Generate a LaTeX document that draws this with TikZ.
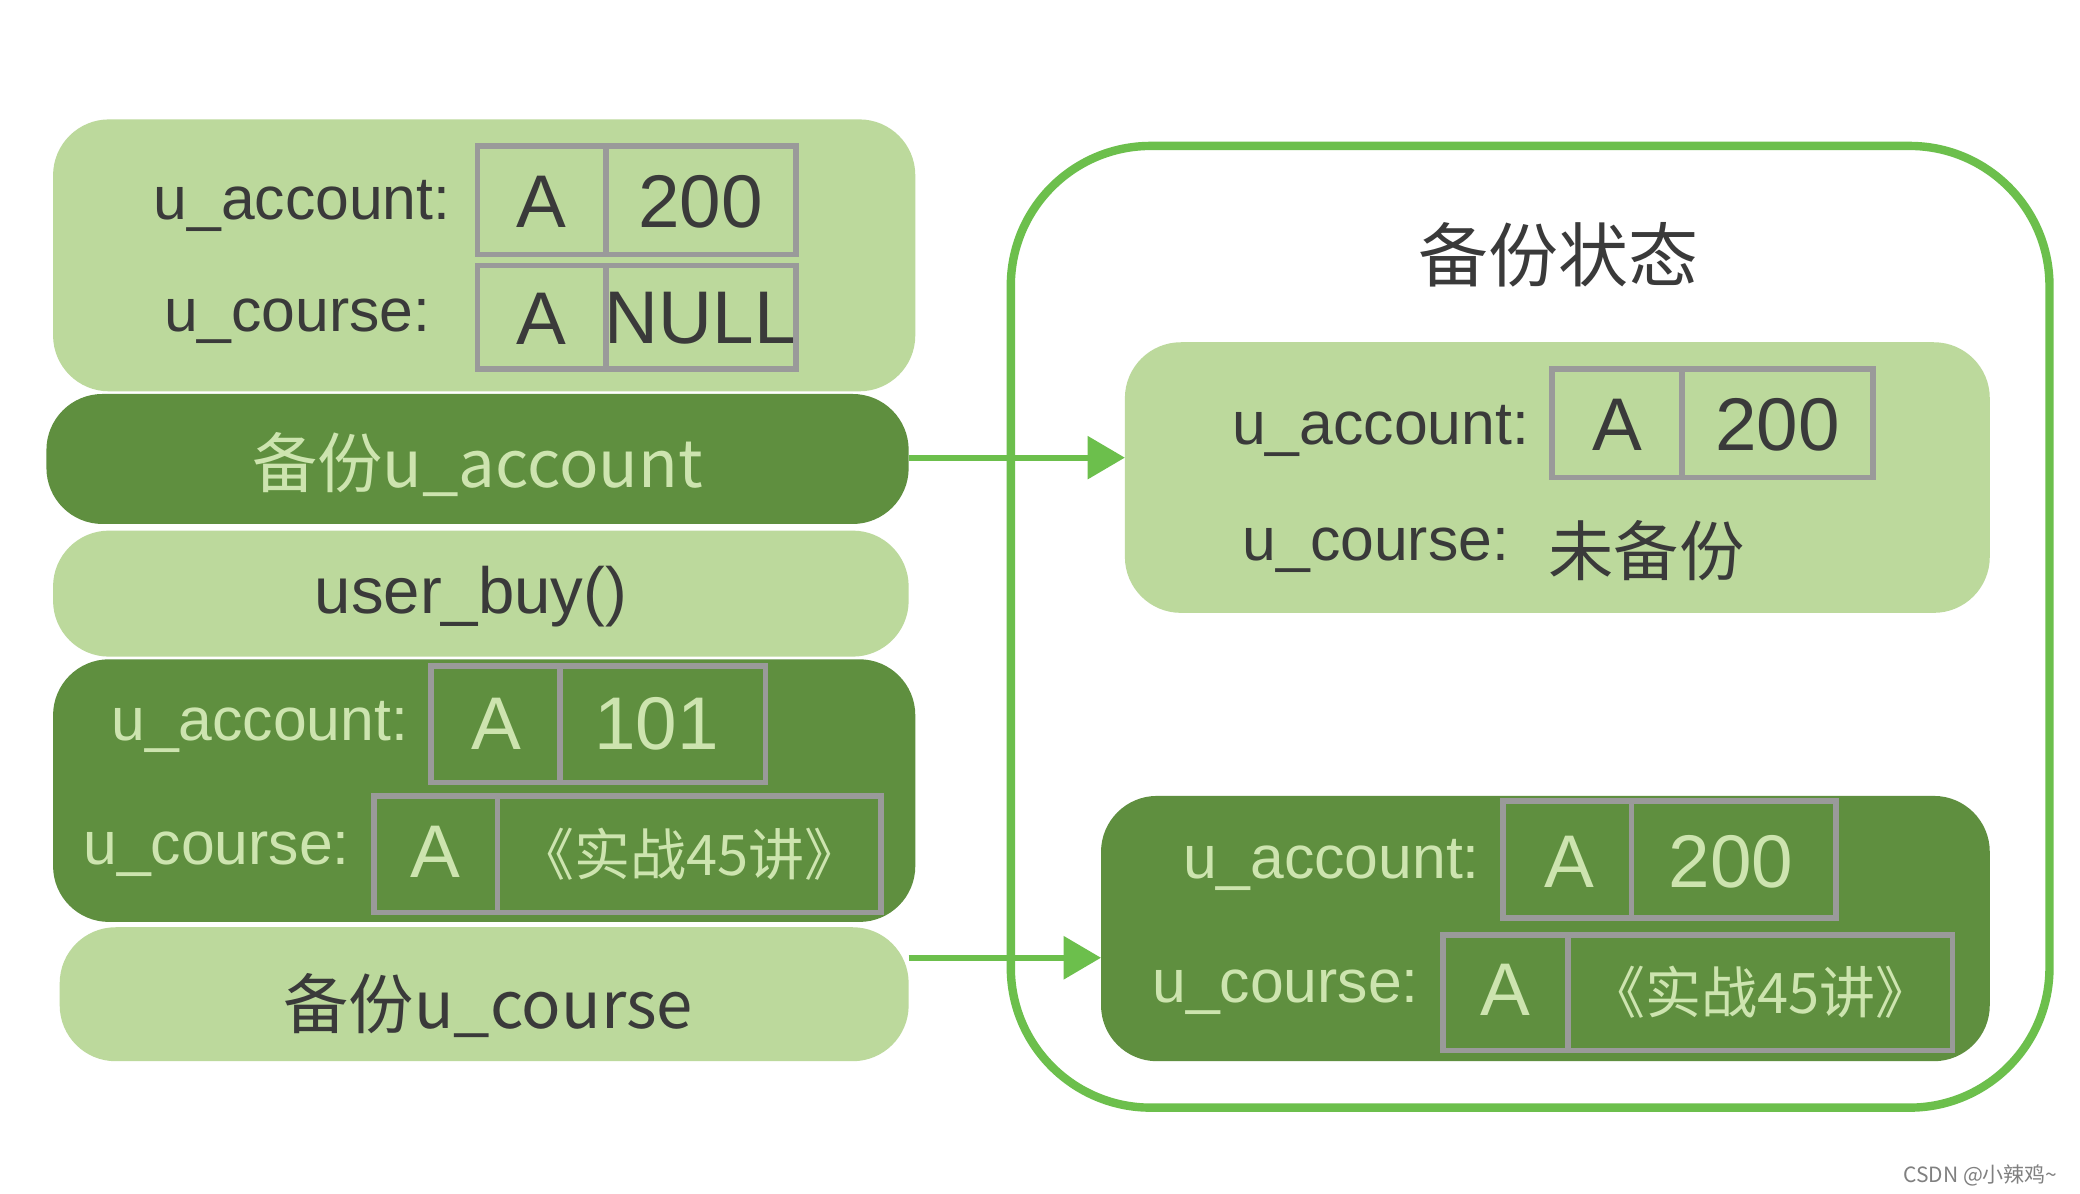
\documentclass[tikz,border=0pt]{standalone}
\usepackage{fontspec}
\setmainfont{Liberation Sans}
\newfontfamily\cjk{Noto Sans CJK SC}
\usetikzlibrary{arrows.meta}
\definecolor{lg}{HTML}{BCD99C}
\definecolor{dg}{HTML}{5F8F3F}
\definecolor{tl}{HTML}{CDE4AF}
\definecolor{td}{HTML}{3A3A3A}
\definecolor{gl}{HTML}{6CBF4C}
\definecolor{cb}{HTML}{9A9A9A}
\tikzset{
 lbox/.style={fill=lg,rounded corners=12},
 dbox/.style={fill=dg,rounded corners=12},
 cell/.style={draw=cb,line width=1.2pt},
 lt/.style={text=td,font=\fontsize{13}{15}\selectfont},
 dt/.style={text=tl,font=\fontsize{13}{15}\selectfont},
 big/.style={font=\fontsize{16}{18}\selectfont},
 conn/.style={draw=gl,line width=1.3pt,-{Triangle[length=8pt,width=9pt]}}
}
\begin{document}
\begin{tikzpicture}[x=0.01cm,y=-0.01cm]
\useasboundingbox[fill=white] (0,0) rectangle (1568,900);
% left column
\fill[lbox] (40,90) rectangle (690,295);
\draw[cell] (360,110) rectangle (457,192) (457,110) rectangle (600,192);
\draw[cell] (360,200) rectangle (457,278) (457,200) rectangle (600,278);
\node[lt,anchor=east] (la1) at (352,155) {u\_account:};
\node[lt,big] (la1a) at (408,152) {A};
\node[lt,big] (la1b) at (528,152) {200};
\node[lt,anchor=east] (lc1) at (337,242) {u\_course:};
\node[lt,big] (lc1a) at (408,240) {A};
\node[lt,big] (lc1b) at (528,240) {NULL};
\fill[dbox] (35,297) rectangle (685,395);
\node[dt,font=\cjk\fontsize{14}{16}\selectfont] (b1) at (360,350) {备份u\_account};
\fill[lbox] (40,400) rectangle (685,495);
\node[lt,font=\fontsize{14}{16}\selectfont] (ub) at (355,450) {user\_buy()};
\fill[dbox] (40,497) rectangle (690,695);
\draw[cell] (325,502) rectangle (422,590) (422,502) rectangle (577,590);
\draw[cell] (282,600) rectangle (375,688) (375,600) rectangle (664,688);
\node[dt,anchor=east] (la2) at (320,548) {u\_account:};
\node[dt,big] (la2a) at (374,546) {A};
\node[dt,big] (la2b) at (495,546) {101};
\node[dt,anchor=east] (lc2) at (276,644) {u\_course:};
\node[dt,big] (lc2a) at (328,642) {A};
\node[dt,font=\cjk\fontsize{12}{14}\selectfont] (lc2b) at (520,644) {《实战45讲》};
\fill[lbox] (45,699) rectangle (685,800);
\node[lt,font=\cjk\fontsize{14}{16}\selectfont] (b2) at (368,758) {备份u\_course};
% right frame
\draw[gl,line width=1.8pt,rounded corners=30] (762,110) rectangle (1545,835);
\node[lt,font=\cjk\fontsize{15}{17}\selectfont] (title) at (1175,192) {备份状态};
\fill[lbox] (848,258) rectangle (1500,462);
\draw[cell] (1170,278) rectangle (1268,360) (1268,278) rectangle (1412,360);
\node[lt,anchor=east] (ra1) at (1165,325) {u\_account:};
\node[lt,big] (ra1a) at (1219,320) {A};
\node[lt,big] (ra1b) at (1340,320) {200};
\node[lt,anchor=east] (rc1) at (1150,415) {u\_course:};
\node[lt,anchor=west,font=\cjk\fontsize{14}{16}\selectfont] (rc1b) at (1155,415) {未备份};
\fill[dbox] (830,600) rectangle (1500,800);
\draw[cell] (1133,604) rectangle (1230,692) (1230,604) rectangle (1384,692);
\draw[cell] (1088,705) rectangle (1182,792) (1182,705) rectangle (1472,792);
\node[dt,anchor=east] (ra2) at (1128,652) {u\_account:};
\node[dt,big] (ra2a) at (1183,650) {A};
\node[dt,big] (ra2b) at (1305,650) {200};
\node[dt,anchor=east] (rc2) at (1082,748) {u\_course:};
\node[dt,big] (rc2a) at (1135,746) {A};
\node[dt,font=\cjk\fontsize{12}{14}\selectfont] (rc2b) at (1327,748) {《实战45讲》};
% arrows
\coordinate (s1) at (685,345); \coordinate (e1) at (848,345);
\coordinate (s2) at (685,722); \coordinate (e2) at (830,722);
\draw[conn] (s1) -- (e1);
\draw[conn] (s2) -- (e2);
\node[text=gray,font=\cjk\fontsize{4.5}{5}\selectfont] (wm) at (1493,886) {CSDN @小辣鸡\textasciitilde};
\end{tikzpicture}
\end{document}
